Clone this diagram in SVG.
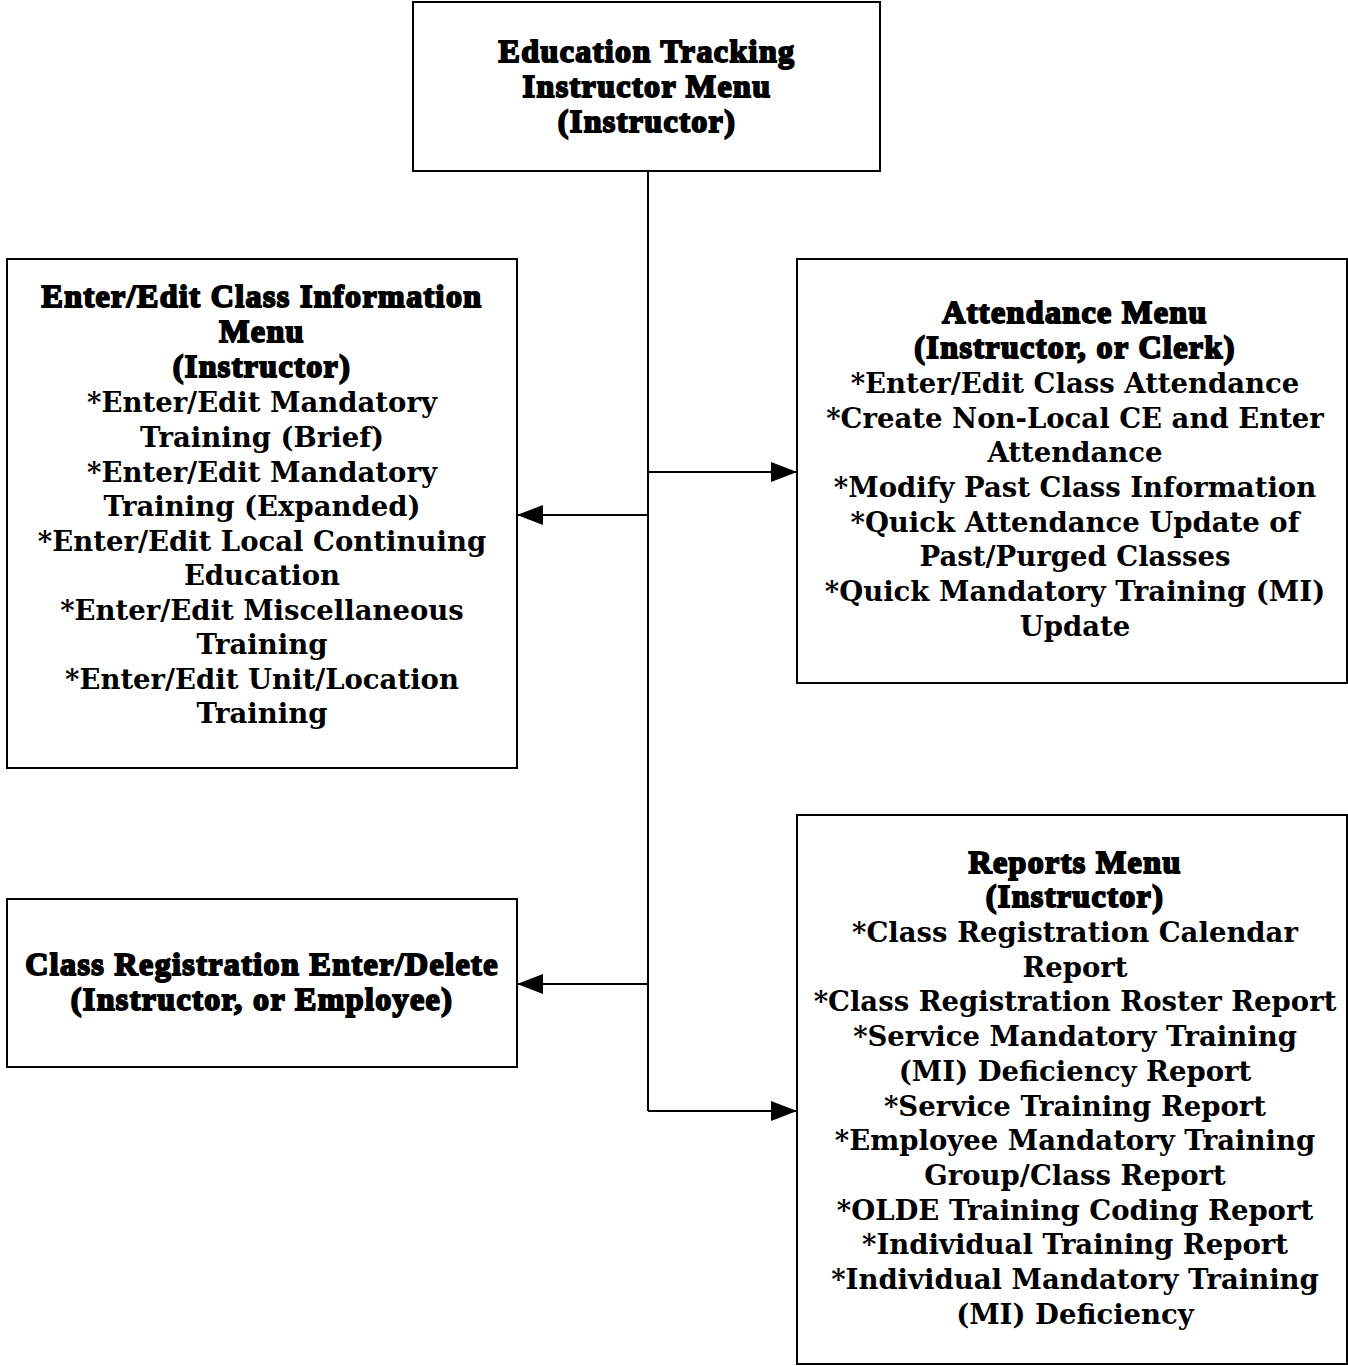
<svg xmlns="http://www.w3.org/2000/svg" width="1348" height="1366" viewBox="0 0 1348 1366">
<defs>
<style>
.box{fill:#fff;stroke:#000;stroke-width:2}
.h{font-family:"Liberation Serif","Times New Roman",serif;font-weight:bold;font-size:32px;text-anchor:middle;fill:#000;stroke:#000;stroke-width:1.9;letter-spacing:1.4px}
.b{font-family:"DejaVu Serif",serif;font-weight:bold;font-size:27.5px;text-anchor:middle;fill:#000}
.c{fill:none;stroke:#000;stroke-width:2}
</style>
<marker id="arr" markerWidth="27" markerHeight="24" refX="26" refY="12" orient="auto" markerUnits="userSpaceOnUse">
<path d="M0,2 L26,12 L0,22 Z" fill="#000"/>
</marker>
</defs>
<rect width="1348" height="1366" fill="#fff"/>
<g id="connectors">
<path class="c" d="M648,171 V1111"/>
<path class="c" d="M648,472 H797" marker-end="url(#arr)"/>
<path class="c" d="M648,515 H517" marker-end="url(#arr)"/>
<path class="c" d="M648,984 H517" marker-end="url(#arr)"/>
<path class="c" d="M648,1111 H797" marker-end="url(#arr)"/>
</g>
<g id="top">
<rect class="box" x="413" y="2" width="467" height="169"/>
<text class="h" x="647" y="62">Education Tracking</text>
<text class="h" x="647" y="97">Instructor Menu</text>
<text class="h" x="647" y="132">(Instructor)</text>
</g>
<g id="classinfo">
<rect class="box" x="7" y="259" width="510" height="509"/>
<text class="h" x="262" y="307">Enter/Edit Class Information</text>
<text class="h" x="262" y="342">Menu</text>
<text class="h" x="262" y="377">(Instructor)</text>
<text class="b" x="262" y="412">*Enter/Edit Mandatory</text>
<text class="b" x="262" y="447">Training (Brief)</text>
<text class="b" x="262" y="482">*Enter/Edit Mandatory</text>
<text class="b" x="262" y="516">Training (Expanded)</text>
<text class="b" x="262" y="551">*Enter/Edit Local Continuing</text>
<text class="b" x="262" y="585">Education</text>
<text class="b" x="262" y="620">*Enter/Edit Miscellaneous</text>
<text class="b" x="262" y="654">Training</text>
<text class="b" x="262" y="689">*Enter/Edit Unit/Location</text>
<text class="b" x="262" y="723">Training</text>
</g>
<g id="attendance">
<rect class="box" x="797" y="259" width="550" height="424"/>
<text class="h" x="1075" y="323">Attendance Menu</text>
<text class="h" x="1075" y="358">(Instructor, or Clerk)</text>
<text class="b" x="1075" y="393">*Enter/Edit Class Attendance</text>
<text class="b" x="1075" y="428">*Create Non-Local CE and Enter</text>
<text class="b" x="1075" y="462">Attendance</text>
<text class="b" x="1075" y="497">*Modify Past Class Information</text>
<text class="b" x="1075" y="532">*Quick Attendance Update of</text>
<text class="b" x="1075" y="566">Past/Purged Classes</text>
<text class="b" x="1075" y="601">*Quick Mandatory Training (MI)</text>
<text class="b" x="1075" y="636">Update</text>
</g>
<g id="registration">
<rect class="box" x="7" y="899" width="510" height="168"/>
<text class="h" x="262" y="975">Class Registration Enter/Delete</text>
<text class="h" x="262" y="1010">(Instructor, or Employee)</text>
</g>
<g id="reports">
<rect class="box" x="797" y="815" width="550" height="549"/>
<text class="h" x="1075" y="873">Reports Menu</text>
<text class="h" x="1075" y="907">(Instructor)</text>
<text class="b" x="1075" y="942">*Class Registration Calendar</text>
<text class="b" x="1075" y="977">Report</text>
<text class="b" x="1075" y="1011">*Class Registration Roster Report</text>
<text class="b" x="1075" y="1046">*Service Mandatory Training</text>
<text class="b" x="1075" y="1081">(MI) Deficiency Report</text>
<text class="b" x="1075" y="1116">*Service Training Report</text>
<text class="b" x="1075" y="1150">*Employee Mandatory Training</text>
<text class="b" x="1075" y="1185">Group/Class Report</text>
<text class="b" x="1075" y="1220">*OLDE Training Coding Report</text>
<text class="b" x="1075" y="1254">*Individual Training Report</text>
<text class="b" x="1075" y="1289">*Individual Mandatory Training</text>
<text class="b" x="1075" y="1324">(MI) Deficiency</text>
</g>
</svg>
